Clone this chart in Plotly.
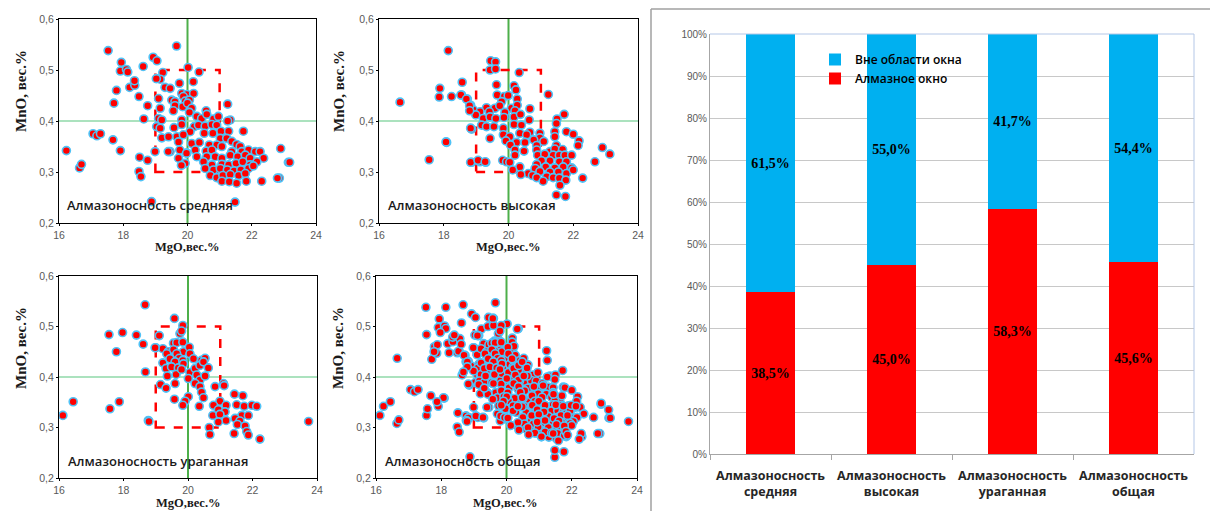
import plotly.graph_objects as go

W, H = 1210, 511

# ---------------- data: scatter 1 (Алмазоносность средняя) ----------------
mgo_sred = [17.53, 19.66, 17.94, 18.93, 19.05, 17.91, 18.10, 18.14, 18.62, 18.20, 18.36, 18.35,
            20.02, 20.36, 17.79, 17.71, 18.49, 18.76, 18.64, 17.06, 17.18, 17.29, 17.68, 16.23,
            16.64, 16.70, 17.91, 18.51, 18.76, 18.49, 18.55, 18.88, 21.48, 22.86, 22.90, 23.14,
            19.23, 19.15, 19.75, 20.18, 19.30, 19.46, 19.82, 19.98, 20.19, 19.10, 19.51, 19.61,
            19.87, 19.93, 20.06, 19.15, 19.61, 19.56, 19.85, 20.00, 20.13, 20.06, 20.58, 21.25,
            19.10, 19.20, 19.82, 20.29, 20.44, 20.60, 20.81, 20.96, 21.33, 19.04, 19.15, 19.58,
            19.82, 20.21, 20.34, 20.55, 20.76, 20.91, 20.08, 20.52, 20.79, 21.04, 21.28, 21.74,
            19.20, 19.41, 19.67, 19.87, 19.72, 20.13, 20.37, 21.02, 21.22, 21.38, 21.53, 21.64,
            20.68, 20.91, 18.99, 19.46, 19.98, 20.24, 20.58, 20.76, 21.07, 21.38, 21.69, 21.90,
            22.11, 22.26, 19.72, 20.29, 20.60, 20.86, 21.07, 21.33, 21.56, 21.80, 21.95, 22.37,
            19.93, 20.50, 20.76, 21.07, 21.28, 21.51, 21.72, 21.95, 22.16, 23.18, 20.55, 20.81,
            21.02, 21.24, 21.45, 21.66, 21.90, 20.71, 20.91, 21.10, 21.33, 21.59, 21.80, 21.07,
            21.30, 21.53, 21.83, 22.31, 22.80, 19.03, 19.40, 19.81, 19.76, 19.97, 21.25, 22.05]
mno_sred = [0.538, 0.547, 0.515, 0.525, 0.518, 0.498, 0.501, 0.496, 0.507, 0.466, 0.470, 0.479,
            0.505, 0.496, 0.460, 0.435, 0.448, 0.430, 0.404, 0.375, 0.371, 0.375, 0.363, 0.342,
            0.308, 0.315, 0.342, 0.329, 0.323, 0.301, 0.291, 0.242, 0.241, 0.288, 0.346, 0.319,
            0.495, 0.482, 0.474, 0.477, 0.466, 0.464, 0.454, 0.452, 0.454, 0.444, 0.441, 0.438,
            0.448, 0.439, 0.441, 0.425, 0.430, 0.420, 0.428, 0.435, 0.425, 0.417, 0.420, 0.433,
            0.405, 0.402, 0.402, 0.409, 0.405, 0.413, 0.404, 0.409, 0.402, 0.389, 0.386, 0.387,
            0.393, 0.389, 0.392, 0.390, 0.393, 0.392, 0.379, 0.376, 0.376, 0.380, 0.380, 0.380,
            0.367, 0.369, 0.369, 0.373, 0.359, 0.356, 0.358, 0.366, 0.366, 0.360, 0.354, 0.350,
            0.353, 0.353, 0.340, 0.340, 0.337, 0.343, 0.341, 0.343, 0.350, 0.340, 0.340, 0.343,
            0.340, 0.340, 0.327, 0.330, 0.330, 0.330, 0.327, 0.333, 0.330, 0.333, 0.327, 0.327,
            0.317, 0.320, 0.314, 0.315, 0.314, 0.317, 0.320, 0.314, 0.320, 0.319, 0.307, 0.304,
            0.307, 0.304, 0.302, 0.304, 0.307, 0.293, 0.289, 0.293, 0.295, 0.293, 0.297, 0.282,
            0.281, 0.278, 0.282, 0.282, 0.288, 0.483, 0.340, 0.313, 0.343, 0.337, 0.400, 0.312]

# ---------------- data: scatter 2 (Алмазоносность высокая) ----------------
mgo_vys = [19.45, 19.60, 19.43, 19.60, 20.33, 18.57, 19.63, 20.17, 20.23, 18.24, 18.55, 18.73,
           19.65, 19.87, 19.99, 21.23, 19.79, 20.27, 18.83, 19.32, 19.58, 19.73, 20.09, 20.27,
           20.66, 18.91, 19.12, 19.41, 19.89, 20.20, 18.99, 19.22, 19.43, 19.61, 19.86, 20.17,
           20.37, 20.64, 21.72, 21.50, 19.17, 19.32, 19.55, 20.17, 20.40, 21.48, 18.86, 19.84,
           20.35, 20.66, 20.97, 21.43, 21.79, 22.00, 19.43, 19.84, 20.04, 20.56, 20.97, 21.43,
           19.92, 20.25, 20.51, 20.78, 21.09, 22.18, 18.09, 20.06, 21.48, 22.15, 20.87, 20.20,
           20.48, 20.87, 21.28, 21.43, 21.67, 22.90, 23.13, 20.20, 20.90, 21.12, 21.38, 21.57,
           21.74, 21.95, 19.12, 18.86, 19.30, 19.82, 19.94, 21.02, 21.28, 21.57, 21.79, 22.67,
           20.04, 20.87, 20.35, 20.82, 21.15, 21.43, 21.69, 21.95, 20.13, 20.61, 20.97, 21.28,
           21.54, 21.79, 22.00, 20.38, 20.74, 20.87, 21.18, 21.38, 21.57, 21.77, 22.29, 21.07,
           21.59, 21.48, 21.76, 16.65, 18.14, 17.88, 17.86, 18.53, 18.70, 18.80, 18.80, 18.83,
           18.07, 17.55, 18.83, 19.06, 19.28]
mno_vys = [0.518, 0.516, 0.500, 0.502, 0.495, 0.476, 0.471, 0.469, 0.461, 0.448, 0.451, 0.443,
           0.451, 0.448, 0.450, 0.452, 0.438, 0.443, 0.431, 0.426, 0.425, 0.430, 0.425, 0.431,
           0.424, 0.422, 0.418, 0.418, 0.417, 0.420, 0.412, 0.405, 0.408, 0.405, 0.407, 0.408,
           0.413, 0.402, 0.413, 0.404, 0.392, 0.389, 0.389, 0.393, 0.392, 0.395, 0.384, 0.386,
           0.376, 0.378, 0.376, 0.379, 0.379, 0.374, 0.366, 0.373, 0.369, 0.373, 0.367, 0.369,
           0.361, 0.358, 0.358, 0.363, 0.360, 0.361, 0.358, 0.353, 0.352, 0.352, 0.352, 0.343,
           0.341, 0.343, 0.340, 0.345, 0.344, 0.348, 0.335, 0.333, 0.333, 0.335, 0.333, 0.333,
           0.333, 0.333, 0.320, 0.319, 0.319, 0.323, 0.320, 0.322, 0.322, 0.320, 0.320, 0.320,
           0.319, 0.315, 0.310, 0.307, 0.310, 0.308, 0.310, 0.308, 0.304, 0.297, 0.301, 0.300,
           0.300, 0.297, 0.304, 0.295, 0.293, 0.289, 0.291, 0.289, 0.288, 0.284, 0.288, 0.282,
           0.274, 0.255, 0.252, 0.437, 0.538, 0.464, 0.447, 0.451, 0.443, 0.430, 0.420, 0.386,
           0.359, 0.324, 0.319, 0.323, 0.320]

# ---------------- data: scatter 3 (Алмазоносность ураганная) ----------------
mgo_urag = [18.67, 19.58, 19.84, 19.75, 19.80, 19.11, 19.00, 19.22, 19.55, 19.65, 19.84, 19.39,
            19.55, 19.86, 20.04, 20.06, 19.34, 19.65, 19.73, 19.22, 19.44, 19.60, 19.84, 20.17,
            20.42, 20.53, 19.32, 19.49, 19.70, 19.86, 20.06, 20.22, 20.37, 20.48, 20.63, 19.36,
            19.63, 19.80, 20.01, 20.27, 20.37, 20.53, 19.15, 19.32, 19.60, 20.22, 20.37, 20.84,
            21.10, 21.12, 20.42, 20.48, 20.01, 19.58, 19.91, 19.84, 20.99, 20.35, 20.79, 20.94,
            21.18, 21.44, 21.70, 21.51, 21.74, 21.98, 22.13, 21.15, 20.77, 20.99, 21.67, 21.87,
            21.18, 21.46, 21.61, 20.94, 21.53, 21.77, 18.77, 20.66, 20.68, 21.43, 21.82, 21.87,
            22.23, 16.12, 16.44, 17.55, 17.97, 18.40, 18.61, 17.78, 18.68, 17.58, 17.87, 18.79,
            23.74, 18.98]
mno_urag = [0.543, 0.516, 0.502, 0.486, 0.491, 0.482, 0.458, 0.456, 0.467, 0.468, 0.469, 0.450,
            0.454, 0.450, 0.459, 0.446, 0.446, 0.446, 0.437, 0.428, 0.436, 0.430, 0.433, 0.436,
            0.433, 0.437, 0.417, 0.420, 0.418, 0.426, 0.409, 0.417, 0.423, 0.430, 0.418, 0.402,
            0.405, 0.415, 0.397, 0.404, 0.394, 0.402, 0.385, 0.378, 0.387, 0.387, 0.381, 0.381,
            0.387, 0.383, 0.370, 0.359, 0.361, 0.356, 0.352, 0.344, 0.352, 0.342, 0.344, 0.335,
            0.344, 0.366, 0.363, 0.345, 0.342, 0.344, 0.342, 0.331, 0.324, 0.326, 0.324, 0.324,
            0.314, 0.318, 0.313, 0.311, 0.306, 0.303, 0.314, 0.300, 0.286, 0.288, 0.292, 0.285,
            0.277, 0.324, 0.351, 0.484, 0.488, 0.483, 0.465, 0.450, 0.410, 0.337, 0.351, 0.312,
            0.312, 0.458]

# ---------------- data: scatter 4 (Алмазоносность общая) = all samples ----------------
mgo_all = mgo_sred + mgo_vys + mgo_urag
mno_all = mno_sred + mno_vys + mno_urag

# ---------------- data: stacked bars ----------------
categories = ["Алмазоносность<br>средняя", "Алмазоносность<br>высокая",
              "Алмазоносность<br>ураганная", "Алмазоносность<br>общая"]
okno = [38.5, 45.0, 58.3, 45.6]
vne_okna = [61.5, 55.0, 41.7, 54.4]
okno_txt = ["38,5%", "45,0%", "58,3%", "45,6%"]
vne_txt = ["61,5%", "55,0%", "41,7%", "54,4%"]

x_ticks = [16, 18, 20, 22, 24]
y_ticks = [0.2, 0.3, 0.4, 0.5, 0.6]
y_ticktext = ["0,2", "0,3", "0,4", "0,5", "0,6"]
bar_ticks = list(range(0, 101, 10))
scatter_titles = ["Алмазоносность средняя", "Алмазоносность высокая",
                  "Алмазоносность ураганная", "Алмазоносность общая"]


def fx(px):
    return px / W


def fy(py):
    return 1 - py / H


fig = go.Figure()

# panel geometry in pixels: (left, right, top, bottom)
panels = [(59, 316, 19, 223), (379, 638, 19, 223), (59, 317, 276, 478), (376, 637, 276, 478)]
data_sets = [(mgo_sred, mno_sred), (mgo_vys, mno_vys), (mgo_urag, mno_urag), (mgo_all, mno_all)]
xtitle_pos = [(187, 247), (508, 247), (188, 503), (506, 503)]
ytitle_pos = [(21, 91), (339, 91), (21, 348), (338, 348)]
label_pos = [(65, 205), (386, 205), (66, 461), (383, 461)]

annotations = []
shapes = []
for i, ((l, r, t, b), (xs, ys)) in enumerate(zip(panels, data_sets)):
    n = i + 1
    xa = "x" if n == 1 else f"x{n}"
    ya = "y" if n == 1 else f"y{n}"
    fig.add_trace(go.Scatter(
        x=xs, y=ys, mode="markers", xaxis=xa, yaxis=ya, showlegend=False,
        marker=dict(size=8, color="#FF0000", line=dict(color="#4FC3F7", width=1.6)),
        hoverinfo="x+y"))
    axis_common = dict(showline=True, linecolor="#000000", linewidth=1, mirror=True,
                       showgrid=False, zeroline=False, ticks="outside", ticklen=2,
                       tickcolor="#000000", automargin=False,
                       tickfont=dict(family="Liberation Sans", size=10.5, color="#595959"))
    fig.layout[("xaxis" if n == 1 else f"xaxis{n}")] = dict(
        domain=[fx(l), fx(r)], range=[16, 24], tickvals=x_ticks, anchor=ya, **axis_common)
    fig.layout[("yaxis" if n == 1 else f"yaxis{n}")] = dict(
        domain=[fy(b), fy(t)], range=[0.2, 0.6], tickvals=y_ticks, ticktext=y_ticktext,
        anchor=xa, **axis_common)
    # reference lines and the diamond window
    shapes.append(dict(type="line", xref=xa, yref=ya, x0=20, x1=20, y0=0.2, y1=0.6,
                       line=dict(color="#4DAF4A", width=2), layer="below"))
    shapes.append(dict(type="line", xref=xa, yref=ya, x0=16, x1=24, y0=0.4, y1=0.4,
                       line=dict(color="#8FD9A8", width=1.5), layer="below"))
    shapes.append(dict(type="rect", xref=xa, yref=ya, x0=19, x1=21, y0=0.3, y1=0.5,
                       line=dict(color="#FF0000", width=2.5, dash="dash"), layer="below"))
    annotations.append(dict(text="MgO,вес.%", x=fx(xtitle_pos[i][0]), y=fy(xtitle_pos[i][1]),
                            xref="paper", yref="paper", showarrow=False,
                            xanchor="center", yanchor="middle",
                            font=dict(family="Liberation Serif", size=12.5, color="#1a1a1a",
                                      weight="bold")))
    annotations.append(dict(text="MnO, вес.%", x=fx(ytitle_pos[i][0]), y=fy(ytitle_pos[i][1]),
                            xref="paper", yref="paper", showarrow=False, textangle=-90,
                            xanchor="center", yanchor="middle",
                            font=dict(family="Liberation Serif", size=15, color="#1a1a1a",
                                      weight="bold")))
    annotations.append(dict(text=scatter_titles[i], x=fx(label_pos[i][0]), y=fy(label_pos[i][1]),
                            xref="paper", yref="paper", showarrow=False,
                            xanchor="left", yanchor="middle",
                            font=dict(family="Open Sans", size=13, color="#1a1a1a",
                                      weight=600)))

# ---------------- stacked bar chart ----------------
fig.add_trace(go.Bar(
    x=categories, y=okno, name="Алмазное окно", marker=dict(color="#FF0000", line=dict(width=0)),
    text=okno_txt, textposition="inside", insidetextanchor="middle", textangle=0,
    constraintext="none",
    textfont=dict(family="Liberation Serif", size=14, color="#000000", weight="bold"),
    xaxis="x5", yaxis="y5"))
fig.add_trace(go.Bar(
    x=categories, y=vne_okna, name="Вне области окна",
    marker=dict(color="#00B0F0", line=dict(width=0)),
    text=vne_txt, textposition="inside", insidetextanchor="middle", textangle=0,
    constraintext="none",
    textfont=dict(family="Liberation Serif", size=14, color="#000000", weight="bold"),
    xaxis="x5", yaxis="y5"))

fig.update_layout(
    xaxis5=dict(domain=[fx(710), fx(1194)], anchor="y5", showline=True, linecolor="#A6A6A6",
                linewidth=1, tickson="boundaries", ticks="outside", ticklen=5,
                tickcolor="#A6A6A6", showgrid=False, automargin=False, ticklabelstandoff=10,
                tickangle=0,
                tickfont=dict(family="Open Sans", size=12.5, color="#262626", weight="bold")),
    yaxis5=dict(domain=[fy(454), fy(34)], anchor="x5", range=[0, 100], tickvals=bar_ticks,
                ticktext=[f"{v}%" for v in bar_ticks], showline=True, linecolor="#A6A6A6",
                showgrid=True, gridcolor="#C8C8C8", gridwidth=1, zeroline=False,
                ticks="", automargin=False,
                tickfont=dict(family="Liberation Sans", size=10, color="#595959")),
    barmode="stack",
    bargap=0.6,
)

# plot frame (top + right) in light blue, and outer chart border
shapes.append(dict(type="line", xref="x5 domain", yref="y5 domain", x0=0, x1=1, y0=1, y1=1,
                   line=dict(color="#B4C7E7", width=1)))
shapes.append(dict(type="line", xref="x5 domain", yref="y5 domain", x0=1, x1=1, y0=0, y1=1,
                   line=dict(color="#B4C7E7", width=1)))
shapes.append(dict(type="line", xref="paper", yref="paper", x0=fx(651), x1=1, y0=fy(9), y1=fy(9),
                   line=dict(color="#A0A0A0", width=1.5)))
shapes.append(dict(type="line", xref="paper", yref="paper", x0=fx(651), x1=fx(651), y0=0,
                   y1=fy(9), line=dict(color="#A0A0A0", width=1.5)))

fig.update_layout(
    width=W, height=H,
    margin=dict(l=0, r=0, t=0, b=0),
    paper_bgcolor="#FFFFFF", plot_bgcolor="rgba(0,0,0,0)",
    shapes=shapes, annotations=annotations,
    showlegend=True,
    legend=dict(x=fx(815), y=fy(45), xanchor="left", yanchor="top",
                bgcolor="rgba(0,0,0,0)", traceorder="reversed",
                font=dict(family="Open Sans", size=12, color="#000000", weight=600),
                itemwidth=30, tracegroupgap=0),
)

fig.write_html("out.html", config={"displayModeBar": False},
               post_script="document.body.style.margin='0px';"
                           "document.body.style.overflow='hidden';")
